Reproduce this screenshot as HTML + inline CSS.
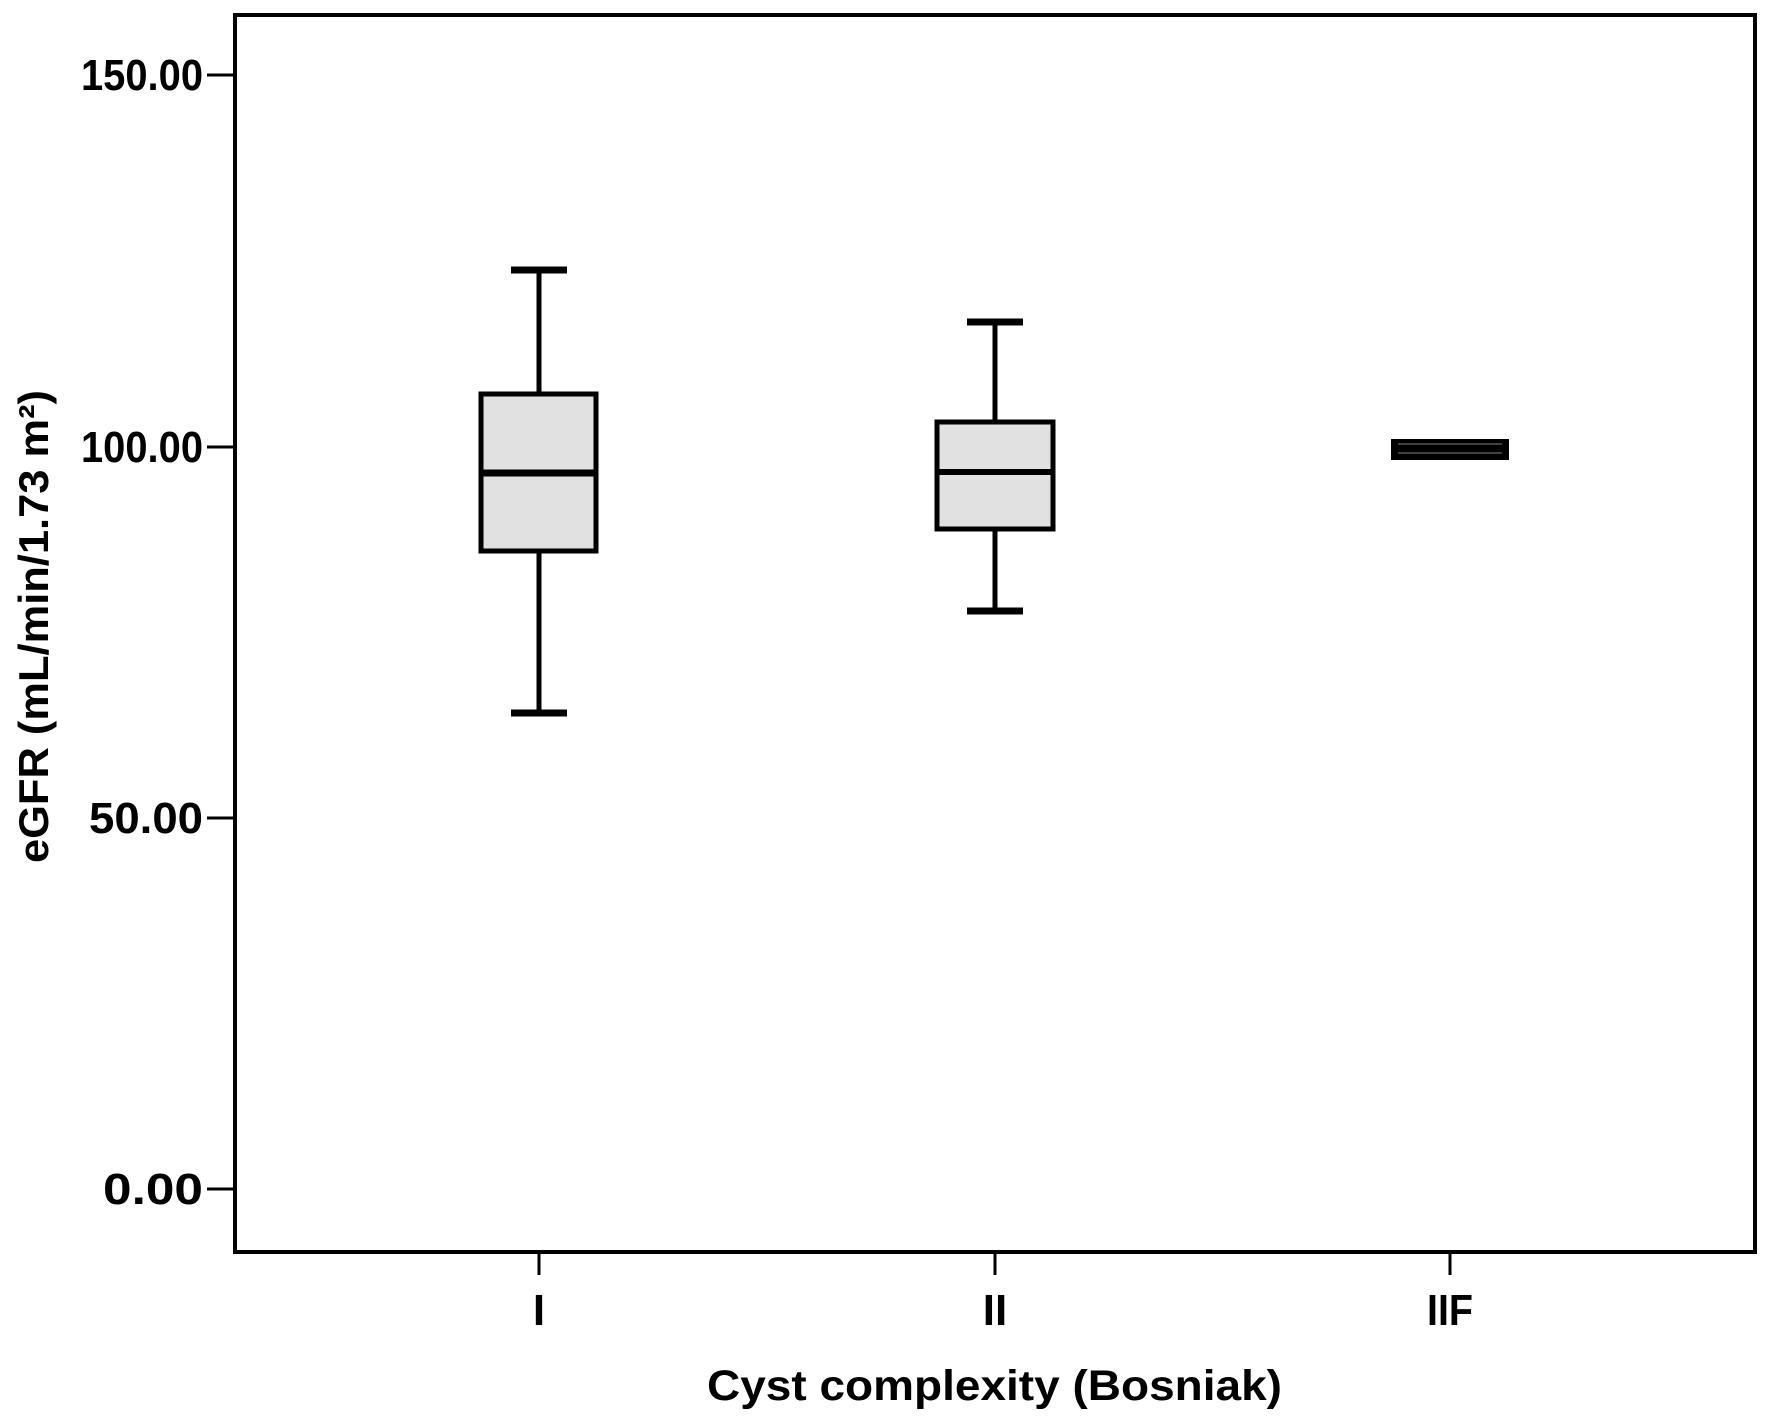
<!DOCTYPE html>
<html><head><meta charset="utf-8"><style>html,body{margin:0;padding:0;background:#fff}svg{display:block}</style></head>
<body>
<svg width="1772" height="1424" viewBox="0 0 1772 1424" xmlns="http://www.w3.org/2000/svg" font-family="Liberation Sans, Arial, sans-serif" font-weight="bold">
<rect width="1772" height="1424" fill="#fff"/>
<rect x="235" y="15" width="1520" height="1237" fill="none" stroke="#000" stroke-width="4"/>
<g stroke="#000" stroke-width="3">
<line x1="207" y1="75" x2="235" y2="75"/>
<line x1="207" y1="447" x2="235" y2="447"/>
<line x1="207" y1="818" x2="235" y2="818"/>
<line x1="207" y1="1189" x2="235" y2="1189"/>
<line x1="539" y1="1252" x2="539" y2="1275"/>
<line x1="995" y1="1252" x2="995" y2="1275"/>
<line x1="1450" y1="1252" x2="1450" y2="1275"/>
</g>
<g font-size="44" text-anchor="end" fill="#000">
<text x="203" y="90" textLength="122" lengthAdjust="spacingAndGlyphs">150.00</text>
<text x="203" y="462" textLength="122" lengthAdjust="spacingAndGlyphs">100.00</text>
<text x="203" y="833" textLength="114" lengthAdjust="spacingAndGlyphs">50.00</text>
<text x="203" y="1204" textLength="100" lengthAdjust="spacingAndGlyphs">0.00</text>
</g>
<g font-size="44" text-anchor="middle" fill="#000">
<text x="539" y="1325">I</text>
<text x="995" y="1325">II</text>
<text x="1450" y="1325" textLength="46" lengthAdjust="spacingAndGlyphs">IIF</text>
</g>
<text x="707" y="1400" font-size="43" textLength="575" lengthAdjust="spacingAndGlyphs">Cyst complexity (Bosniak)</text>
<text transform="translate(48,863) rotate(-90)" font-size="42" textLength="473" lengthAdjust="spacingAndGlyphs">eGFR (mL/min/1.73 m²)</text>
<g stroke="#000" fill="none">
<line x1="539" y1="270" x2="539" y2="394" stroke-width="5"/>
<line x1="539" y1="551" x2="539" y2="713" stroke-width="5"/>
<line x1="511" y1="270" x2="567" y2="270" stroke-width="7"/>
<line x1="511" y1="713" x2="567" y2="713" stroke-width="7"/>
<rect x="481" y="394" width="115" height="157" fill="#e1e1e1" stroke-width="5"/>
<line x1="481" y1="473" x2="596" y2="473" stroke-width="7"/>
</g>
<g stroke="#000" fill="none">
<line x1="995" y1="322" x2="995" y2="422" stroke-width="5"/>
<line x1="995" y1="529" x2="995" y2="611" stroke-width="5"/>
<line x1="967" y1="322" x2="1023" y2="322" stroke-width="7"/>
<line x1="967" y1="611" x2="1023" y2="611" stroke-width="7"/>
<rect x="937" y="422" width="116" height="107" fill="#e1e1e1" stroke-width="5"/>
<line x1="937" y1="472" x2="1053" y2="472" stroke-width="6"/>
</g>
<rect x="1391" y="439" width="118" height="21" fill="#000"/>
<line x1="1398" y1="444" x2="1502" y2="444" stroke="#555" stroke-width="1.5"/>
<line x1="1398" y1="453" x2="1502" y2="453" stroke="#555" stroke-width="1.5"/>
</svg>
</body></html>
